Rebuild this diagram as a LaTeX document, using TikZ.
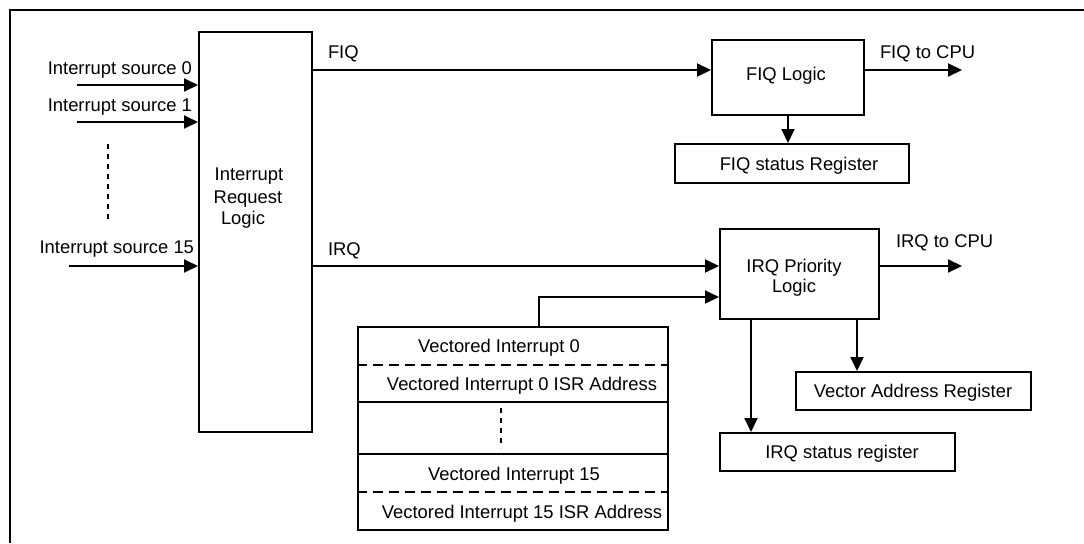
\documentclass[tikz,border=0pt]{standalone}
\usepackage{fontspec}
\setmainfont{Liberation Sans}
\usetikzlibrary{arrows.meta}

\begin{document}
\begin{tikzpicture}[
  x=0.5pt, y=-0.5pt,
  line width=1pt,
  font=\fontsize{9.2}{11}\selectfont,
  arr/.style={-{Triangle[length=7pt,width=6.5pt]}},
  box/.style={draw, line width=1pt, inner sep=0pt},
  txt/.style={inner sep=0pt},
  dashrow/.style={line width=1pt, dash pattern=on 5pt off 3pt},
  dotcol/.style={line width=1pt, dash pattern=on 2.5pt off 2.5pt},
]
\useasboundingbox (0,0) rectangle (1084,543);

% outer frame (top and left edges)
\draw (10,543) -- (10,10) -- (1084,10);

% ---- boxes ----
\node[box, minimum width=56.5pt, minimum height=200pt] (irl) at (255.5,232) {};
\node[box, minimum width=76pt, minimum height=37.5pt] (fiq) at (788,77.5) {};
\node[box, minimum width=117pt, minimum height=19.5pt] (fiqsr) at (792,163.5) {};
\node[box, minimum width=79.5pt, minimum height=45pt] (irq) at (799.5,274) {};
\node[box, minimum width=117.5pt, minimum height=19pt] (irqsr) at (837.5,452) {};
\node[box, minimum width=117.5pt, minimum height=19pt] (var) at (913.5,391) {};
\node[box, minimum width=155pt, minimum height=101.5pt] (vt) at (513,428.5) {};

% ---- box texts ----
\node[txt, anchor=base] (irlt1) at (249,180) {Interrupt};
\node[txt, anchor=base] (irlt2) at (248,203) {Request};
\node[txt, anchor=base] (irlt3) at (243,224) {Logic};
\node[txt, anchor=base] (fiqt) at (786,80) {FIQ Logic};
\node[txt, anchor=base] (fiqsrt) at (799,170) {FIQ status Register};
\node[txt, anchor=base] (irqt1) at (794,272) {IRQ Priority};
\node[txt, anchor=base] (irqt2) at (794,292) {Logic};
\node[txt, anchor=base] (vart) at (913,397) {Vector Address Register};
\node[txt, anchor=base] (irqsrt) at (842,458) {IRQ status register};

% ---- vector table rows ----
\draw[dashrow] (vt.west |- 0,365) -- (vt.east |- 0,365);
\draw (vt.west |- 0,402) -- (vt.east |- 0,402);
\draw (vt.west |- 0,454) -- (vt.east |- 0,454);
\draw[dashrow] (vt.west |- 0,492) -- (vt.east |- 0,492);
\draw[dotcol] (501,408) -- (501,448);
\node[txt, anchor=base] (vt0) at (499,352) {Vectored Interrupt 0};
\node[txt, anchor=base] (vt0a) at (522,390) {Vectored Interrupt 0 ISR Address};
\node[txt, anchor=base] (vt15) at (514,480) {Vectored Interrupt 15};
\node[txt, anchor=base] (vt15a) at (522,518) {Vectored Interrupt 15 ISR Address};

% ---- interrupt sources ----
\coordinate (s0) at (77,85);
\coordinate (s1) at (77,122);
\coordinate (s15) at (69,266);
\draw[arr] (s0) -- (irl.west |- s0);
\draw[arr] (s1) -- (irl.west |- s1);
\draw[arr] (s15) -- (irl.west |- s15);
\node[txt, anchor=base east] (s0t) at (193,74) {Interrupt source 0};
\node[txt, anchor=base east] (s1t) at (193,111) {Interrupt source 1};
\node[txt, anchor=base east] (s15t) at (195,253) {Interrupt source 15};
\draw[dotcol] (108,144) -- (108,220);

% ---- FIQ path ----
\coordinate (fiqline) at (0,70);
\coordinate (fiqcpu) at (962,70);
\draw[arr] (irl.east |- fiqline) -- (fiq.west |- fiqline);
\draw[arr] (fiq.east |- fiqline) -- (fiqcpu);
\draw[arr] (fiq.south) -- (fiq.south |- fiqsr.north);
\node[txt, anchor=base west] (fiqlbl) at (327,58) {FIQ};
\node[txt, anchor=base west] (fiqcpul) at (879,58) {FIQ to CPU};

% ---- IRQ path ----
\coordinate (irqline) at (0,266);
\coordinate (irqcpu) at (962,266);
\coordinate (vtin) at (539,297);
\coordinate (tosr) at (751,0);
\coordinate (tovar) at (857,0);
\draw[arr] (irl.east |- irqline) -- (irq.west |- irqline);
\draw[arr] (irq.east |- irqline) -- (irqcpu);
\draw[arr] (vt.north -| vtin) |- (irq.west |- vtin);
\draw[arr] (irq.south -| tosr) -- (irqsr.north -| tosr);
\draw[arr] (irq.south -| tovar) -- (var.north -| tovar);
\node[txt, anchor=base west] (irqlbl) at (327,255) {IRQ};
\node[txt, anchor=base west] (irqcpul) at (895,247) {IRQ to CPU};
\end{tikzpicture}
\end{document}
